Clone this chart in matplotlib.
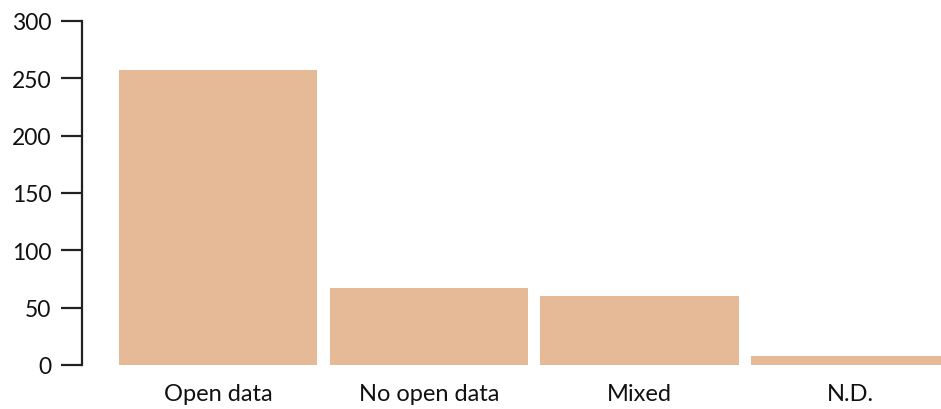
import matplotlib
matplotlib.use("Agg")
import matplotlib.pyplot as plt

categories = ["Open data", "No open data", "Mixed", "N.D."]
counts = [257, 67, 60, 8]
yticks = [0, 50, 100, 150, 200, 250, 300]

plt.rcParams['font.family'] = ['Lato', 'DejaVu Sans']

fig = plt.figure(figsize=(9.41, 4.10), dpi=100)
ax = fig.add_axes([82/941, 44/410, 1 - 82/941, 344/410])

x = list(range(len(categories)))
ax.bar(x, counts, width=0.94, color="#E6BA96", edgecolor="none")

ax.set_xlim(-0.645, 3.43)
ax.set_ylim(0, 300)
ax.set_yticks(yticks)
ax.set_yticklabels([str(v) for v in yticks])
ax.set_xticks(x)
ax.set_xticklabels(categories)

for s in ["top", "right", "bottom"]:
    ax.spines[s].set_visible(False)
ax.spines["left"].set_linewidth(1.6)
ax.spines["left"].set_color("#222222")
ax.spines["left"].set_bounds(0, 300)

ax.tick_params(axis="y", length=15, width=1.6, color="#222222", pad=7,
               labelsize=16.5, labelcolor="#111111")
ax.tick_params(axis="x", length=0, pad=13, labelsize=17, labelcolor="#111111")

fig.savefig("out.png", dpi=100)
